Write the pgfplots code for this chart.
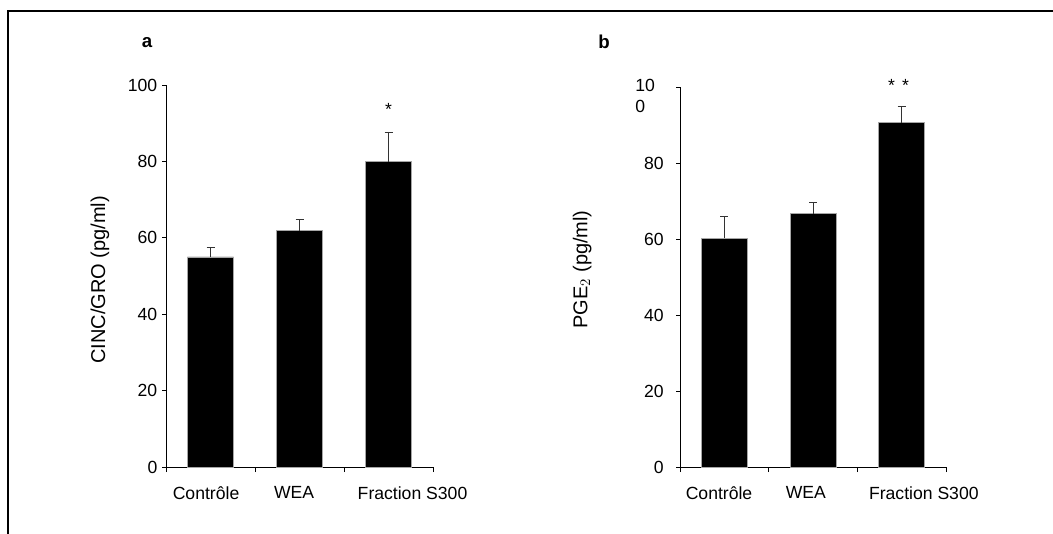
\documentclass[border=0pt]{standalone}
\usepackage{fontspec}
\setmainfont{Liberation Sans}
\usepackage{pgfplots}
\pgfplotsset{compat=1.18}

% one reference pixel = 0.75pt
\pgfplotsset{
  panel/.style={
    scale only axis, clip=false,
    xmin=0, xmax=3, ymin=0, ymax=100,
    axis x line*=bottom, axis y line*=left,
    axis line style={-, draw=black, line width=0.6pt},
    tick align=outside,
    major tick length=3pt, minor tick length=3.75pt,
    tick style={black, line width=0.6pt},
    major x tick style={draw=none},
    minor xtick={0,1,2,3},
    ytick={0,20,40,60,80,100},
    /pgf/number format/assume math mode=true,
    tick label style={font=\fontsize{13.2}{15}\selectfont},
    xticklabel style={yshift=-8pt},
    ybar, bar width=0.517, bar shift=0pt,
  },
  bars/.style={fill=black, draw=gray!70, line width=0.5pt,
    error bars/.cd, y dir=plus, y explicit,
    error bar style={gray!40!black, line width=0.6pt},
    error mark options={rotate=90, mark size=3pt, gray!40!black, line width=0.6pt}},
}

\begin{document}
\begin{tikzpicture}
\path[use as bounding box] (0pt,0pt) rectangle (789.75pt,-400.5pt);
\draw[line width=1.5pt] (789.75pt,-8.25pt) -- (6pt,-8.25pt) -- (6pt,-400.5pt);

\node[font=\bfseries\fontsize{14}{16}\selectfont] at (110.25pt,-32.25pt) {a};
\node[font=\bfseries\fontsize{14}{16}\selectfont] at (453pt,-31.5pt) {b};

% panel a
\begin{axis}[panel, at={(124.5pt,-350.25pt)}, anchor=origin,
  width=200.25pt, height=286.5pt,
  xtick={0.45,1.44,2.77},
  xticklabels={Contrôle,WEA,Fraction S300},
  ylabel={CINC/GRO (pg/ml)},
  every axis y label/.style={at={(axis description cs:-0.247,0.49)}, rotate=90,
    anchor=center, font=\fontsize{15}{17}\selectfont},
]
\addplot[bars] coordinates {
  (0.5,55.0) +- (0,2.4)
  (1.5,61.9) +- (0,3.0)
  (2.5,79.9) +- (0,7.8)
};
\node[anchor=base, font=\fontsize{13.2}{15}\selectfont] at (axis cs:2.5,92.0) {*};
\end{axis}

% panel b
\begin{axis}[panel, at={(510pt,-350.25pt)}, anchor=origin,
  width=199.5pt, height=285pt,
  xtick={0.44,1.42,2.75},
  xticklabels={Contrôle,WEA,Fraction S300},
  yticklabels={0,20,40,60,80,{}},
  yticklabel style={xshift=-5.75pt},
  ylabel={PGE$_2$ (pg/ml)},
  every axis y label/.style={at={(axis description cs:-0.368,0.52)}, rotate=90,
    anchor=center, font=\fontsize{15}{17}\selectfont},
]
\addplot[bars] coordinates {
  (0.5,60.2) +- (0,5.7)
  (1.5,66.7) +- (0,3.0)
  (2.5,90.6) +- (0,4.2)
};
\node[anchor=base, font=\fontsize{13.2}{15}\selectfont] at (axis cs:2.385,98.9) {*};
\node[anchor=base, font=\fontsize{13.2}{15}\selectfont] at (axis cs:2.545,98.9) {*};
\node[anchor=north west, align=left, inner sep=0pt,
  font=\fontsize{13.2}{16}\selectfont] at (axis cs:-0.507,102.2) {10\\0};
\end{axis}
\end{tikzpicture}
\end{document}
